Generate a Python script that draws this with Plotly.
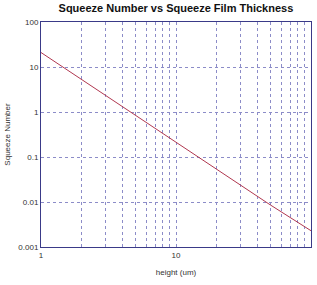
import plotly.graph_objects as go

height_um = [1, 2, 5, 10, 20, 50, 100]
squeeze_number = [21, 5.3, 0.86, 0.21, 0.053, 0.0086, 0.0023]

x_grid = [1, 2, 3, 4, 5, 6, 7, 8, 9, 10, 20, 30, 40, 50, 60, 70, 80, 90, 100]
x_labels = ["1", "", "", "", "", "", "", "", "", "10", "", "", "", "", "", "", "", "", "100"]
y_ticks = [0.001, 0.01, 0.1, 1, 10, 100]
y_labels = ["0.001", "0.01", "0.1", "1", "10", "100"]

grid_color = "#8c8cc8"
axis_color = "#3a3a88"
font_fam = "Liberation Sans, Arial, sans-serif"

fig = go.Figure()
fig.add_trace(go.Scatter(x=height_um, y=squeeze_number, mode="lines",
                         line=dict(color="#b03850", width=1), showlegend=False))

fig.update_layout(
    width=317, height=285,
    margin=dict(l=41, r=6, t=22, b=38),
    paper_bgcolor="white", plot_bgcolor="white",
    title=dict(text="<b>Squeeze Number vs Squeeze Film Thickness</b>",
               x=0.555, xanchor="center", y=0.985, yanchor="top",
               font=dict(family=font_fam, size=11, color="#111111")),
    font=dict(family=font_fam, size=8, color="#333333"),
)
fig.update_xaxes(type="log", range=[0, 2], tickvals=x_grid, ticktext=x_labels,
                 showgrid=True, gridcolor=grid_color, griddash="dot", gridwidth=1,
                 showline=True, linecolor=axis_color, linewidth=1, mirror=True,
                 ticks="", zeroline=False,
                 title=dict(text="height (um)", standoff=10,
                            font=dict(family=font_fam, size=8, color="#333333")))
fig.update_yaxes(type="log", range=[-3, 2], tickvals=y_ticks, ticktext=y_labels,
                 showgrid=True, gridcolor=grid_color, griddash="dot", gridwidth=1,
                 showline=True, linecolor=axis_color, linewidth=1, mirror=True,
                 ticks="", zeroline=False,
                 title=dict(text="Squeeze Number", standoff=6,
                            font=dict(family=font_fam, size=8, color="#333333")))

fig.write_html("out.html")
